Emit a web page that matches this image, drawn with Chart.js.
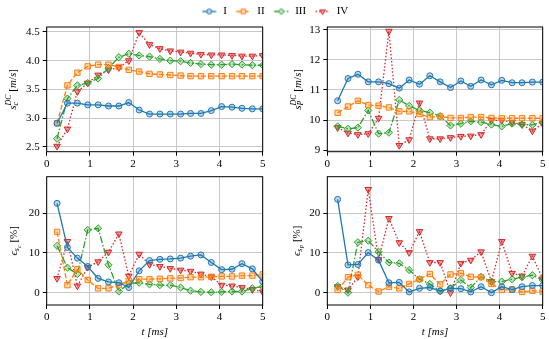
<!DOCTYPE html>
<html>
<head>
<meta charset="utf-8">
<script src="https://cdn.jsdelivr.net/npm/chart.js@4.4.1/dist/chart.umd.min.js"></script>
<style>
  body { margin: 0; background: #fff; }
  #wrap { position: relative; width: 549px; height: 339px; overflow: hidden; }
  #wrap canvas { position: absolute; }
</style>
</head>
<body>
<div id="wrap">
  <canvas id="legend" width="549" height="40" style="left:0;top:-2px"></canvas>
  <canvas id="sc" width="270" height="148" style="left:0;top:22px"></canvas>
  <canvas id="sp" width="279" height="148" style="left:270px;top:22px"></canvas>
  <canvas id="errSc" width="270" height="169" style="left:0;top:170px"></canvas>
  <canvas id="errSp" width="279" height="169" style="left:270px;top:170px"></canvas>
</div>
<script>
// time stamps [ms]
const tMs = [0.24, 0.48, 0.71, 0.95, 1.19, 1.43, 1.67, 1.90, 2.14, 2.38, 2.62,
             2.86, 3.10, 3.33, 3.57, 3.81, 4.05, 4.29, 4.52, 4.76, 5.00]

// s_c^DC [m/s]
const scI   = [2.91, 3.26, 3.26, 3.23, 3.23, 3.21, 3.21, 3.27, 3.14, 3.07, 3.07, 3.07, 3.07, 3.08, 3.08, 3.13, 3.20, 3.19, 3.17, 3.16, 3.16]
const scII  = [2.91, 3.57, 3.79, 3.90, 3.93, 3.93, 3.89, 3.84, 3.81, 3.77, 3.76, 3.75, 3.74, 3.73, 3.73, 3.73, 3.73, 3.73, 3.73, 3.73, 3.73]
const scIII = [2.64, 3.34, 3.57, 3.61, 3.69, 3.87, 4.06, 4.12, 4.09, 4.07, 4.03, 4.00, 3.99, 3.96, 3.94, 3.93, 3.93, 3.94, 3.93, 3.92, 3.92]
const scIV  = [2.51, 2.81, 3.46, 3.61, 3.75, 3.84, 3.88, 4.00, 4.49, 4.28, 4.21, 4.17, 4.15, 4.13, 4.11, 4.10, 4.10, 4.09, 4.08, 4.08, 4.09]

// s_P^DC [m/s]
const spI   = [10.64, 11.38, 11.52, 11.27, 11.27, 11.21, 11.06, 11.33, 11.19, 11.47, 11.27, 11.08, 11.30, 11.12, 11.33, 11.17, 11.32, 11.24, 11.24, 11.26, 11.26]
const spII  = [10.24, 10.45, 10.64, 10.50, 10.48, 10.42, 10.29, 10.29, 10.20, 10.10, 10.12, 10.07, 10.07, 10.10, 10.10, 10.07, 10.06, 10.06, 10.06, 10.06, 10.06]
const spIII = [9.79, 9.71, 9.75, 10.32, 9.55, 9.58, 10.67, 10.47, 10.32, 10.25, 10.13, 9.82, 9.88, 9.96, 9.93, 9.85, 9.79, 9.88, 9.85, 9.84, 9.93]
const spIV  = [9.75, 9.57, 9.52, 9.55, 10.06, 12.95, 9.16, 9.35, 10.57, 9.38, 9.38, 9.42, 9.46, 9.47, 9.52, 9.99, 9.99, 9.93, 9.85, 9.64, 9.88]

// error of s_c [%]
const errScI   = [22.5, 11.4, 8.7, 6.6, 3.6, 2.7, 2.5, 1.3, 5.5, 8.1, 8.4, 8.5, 8.7, 9.2, 9.5, 7.6, 5.8, 5.9, 7.3, 6.0, 2.8]
const errScII  = [15.3, 1.9, 5.9, 3.2, 1.1, 1.1, 1.9, 3.0, 3.4, 3.4, 3.5, 3.6, 3.7, 3.9, 3.9, 4.0, 4.1, 4.1, 4.3, 4.3, 4.6]
const errScIII = [11.8, 6.3, 4.7, 15.8, 16.2, 7.0, 0.3, 2.3, 2.5, 2.1, 1.9, 1.9, 1.3, 0.5, 0.2, 0.1, 0.2, 0.3, 0.3, 1.1, 1.5]
const errScIV  = [3.6, 12.9, 1.7, 6.4, 7.8, 10.2, 14.8, 4.2, 9.7, 7.1, 6.6, 6.1, 5.7, 5.4, 4.7, 4.0, 1.9, 1.7, 1.3, 0.8, 0.2]

// error of s_P [%]
const errSpI   = [23.5, 7.0, 7.1, 10.1, 8.2, 2.5, 2.6, 0.2, 1.1, 1.3, 0.4, 1.1, 1.0, 0.2, 1.5, 0.0, 1.5, 0.8, 1.5, 1.8, 1.8]
const errSpII  = [0.7, 3.9, 4.5, 1.9, 0.3, 1.5, 1.1, 2.2, 3.4, 4.7, 2.1, 4.6, 4.9, 4.0, 3.9, 2.2, 0.7, 0.8, 0.2, 0.5, 0.3]
const errSpIII = [1.7, 0.0, 12.7, 13.1, 10.3, 7.6, 7.4, 5.7, 3.4, 2.2, 0.4, 1.1, 3.2, 1.3, 4.0, 2.8, 2.8, 3.4, 3.9, 4.4, 3.2]
const errSpIV  = [1.5, 0.7, 4.0, 26.0, 8.4, 18.7, 12.6, 10.1, 15.4, 7.6, 7.6, 0.0, 7.4, 8.2, 10.3, 2.8, 12.9, 4.9, 4.2, 9.2, 3.5]

const xTicks = [0, 1, 2, 3, 4, 5]
const scTicks = [2.5, 3.0, 3.5, 4.0, 4.5]
const spTicks = [9, 10, 11, 12, 13]
const errTicks = [0, 10, 20]

const FONT = '"Liberation Serif", "Times New Roman", serif'
Chart.defaults.font.family = FONT
Chart.defaults.font.size = 11
Chart.defaults.color = '#000'
Chart.defaults.animation = false

const series = [
  { label: 'I',   color: '#1f77b4', fill: 'rgba(31,119,180,0.3)', dash: [],             style: 'circle',   radius: 3 },
  { label: 'II',  color: '#ff7f0e', fill: 'rgba(255,127,14,0.3)', dash: [5, 2],         style: 'rect',     radius: 3.8 },
  { label: 'III', color: '#2ca02c', fill: 'rgba(44,160,44,0.3)',  dash: [7, 2, 1.5, 2], style: 'rectRot',  radius: 3.6 },
  { label: 'IV',  color: '#d62728', fill: 'rgba(214,39,40,0.45)', dash: [1.5, 2],       style: 'triangle', radius: 3.8, rotation: 180 }
]

function makeDatasets(lists) {
  return series.map((s, i) => ({
    label: s.label,
    data: tMs.map((t, j) => ({ x: t, y: lists[i][j] })),
    borderColor: s.color,
    backgroundColor: s.fill,
    borderDash: s.dash,
    borderWidth: 1.3,
    pointStyle: s.style,
    pointRadius: s.radius,
    pointRotation: s.rotation || 0,
    pointBorderWidth: 1,
    pointBorderColor: s.color,
    pointBackgroundColor: s.fill,
    tension: 0
  }))
}

// little line + marker image for the legend
function legendIcon(s) {
  const c = document.createElement('canvas')
  c.width = 17; c.height = 10
  const ctx = c.getContext('2d')
  ctx.strokeStyle = s.color
  ctx.lineWidth = 1.3
  ctx.setLineDash(s.dash)
  ctx.beginPath(); ctx.moveTo(1.5, 5); ctx.lineTo(15.5, 5); ctx.stroke()
  ctx.setLineDash([])
  ctx.fillStyle = '#fff'
  Chart.helpers.drawPoint(ctx, { pointStyle: s.style, radius: s.radius * 0.85, rotation: s.rotation || 0, borderWidth: 0 }, 8.5, 5)
  ctx.fillStyle = s.fill
  ctx.lineWidth = 1
  Chart.helpers.drawPoint(ctx, { pointStyle: s.style, radius: s.radius * 0.85, rotation: s.rotation || 0, borderWidth: 1 }, 8.5, 5)
  return c
}

// full box around the axes like matplotlib spines
const framePlugin = {
  id: 'frame',
  afterDatasetsDraw(chart) {
    const a = chart.chartArea, ctx = chart.ctx
    ctx.save()
    ctx.strokeStyle = '#000'
    ctx.lineWidth = 1
    ctx.strokeRect(a.left, a.top, a.right - a.left, a.bottom - a.top)
    ctx.restore()
  }
}

// rotated y label with sub/superscripts
const mathLabel = {
  id: 'mathLabel',
  afterDraw(chart, args, opts) {
    if (!opts.parts) return
    const ctx = chart.ctx, a = chart.chartArea, base = 11
    const fontOf = p => (p.it ? 'italic ' : '') + ((p.s || 1) * base) + 'px ' + FONT
    let w = 0
    opts.parts.forEach(p => {
      ctx.font = fontOf(p)
      if (p.adv !== false) w += ctx.measureText(p.t).width
    })
    ctx.save()
    ctx.translate(opts.x, (a.top + a.bottom) / 2)
    ctx.rotate(-Math.PI / 2)
    ctx.fillStyle = '#000'
    ctx.textBaseline = 'alphabetic'
    let x = -w / 2
    opts.parts.forEach(p => {
      ctx.font = fontOf(p)
      ctx.fillText(p.t, x, 3.5 + (p.dy || 0))
      if (p.adv !== false) x += ctx.measureText(p.t).width
    })
    ctx.restore()
  }
}

const unitsMs = [{ t: ' [' }, { t: 'm', it: 1 }, { t: '/' }, { t: 's', it: 1 }, { t: ']' }]
const unitsPct = [{ t: ' [%]' }]

function makeScales(yMin, yMax, yTicks, decimals, yWidth, xHeight, xTitle) {
  const grid = { color: '#c8c8c8', lineWidth: 1, tickColor: '#000', tickLength: 4 }
  return {
    x: {
      type: 'linear', min: 0, max: 5,
      afterBuildTicks: s => { s.ticks = xTicks.map(v => ({ value: v })) },
      ticks: { padding: 2, maxRotation: 0, callback: v => String(v) },
      grid: grid,
      border: { display: false },
      title: { display: xTitle, text: 't [ms]', font: { style: 'italic', size: 11 }, padding: { top: 0, bottom: 0 } },
      afterFit: s => { s.height = xHeight; s.paddingLeft = 0; s.paddingRight = 0 }
    },
    y: {
      type: 'linear', min: yMin, max: yMax,
      afterBuildTicks: s => { s.ticks = yTicks.map(v => ({ value: v })) },
      ticks: { padding: 3, callback: v => v.toFixed(decimals) },
      grid: grid,
      border: { display: false },
      afterFit: s => { s.width = yWidth; s.paddingTop = 0; s.paddingBottom = 0 }
    }
  }
}

function panel(id, lists, scales, pad, labelX, parts) {
  return new Chart(document.getElementById(id), {
    type: 'line',
    data: { datasets: makeDatasets(lists) },
    options: {
      responsive: false,
      layout: { padding: pad },
      scales: scales,
      plugins: {
        legend: { display: false },
        tooltip: { enabled: false },
        mathLabel: { x: labelX, parts: parts }
      }
    },
    plugins: [framePlugin, mathLabel]
  })
}

panel('sc', [scI, scII, scIII, scIV],
  makeScales(2.414, 4.586, scTicks, 1, 46.7, 18.3, false),
  { left: 0, right: 7.3, top: 3, bottom: 0 }, 12,
  [{ t: 's', it: 1 }, { t: 'c', it: 1, s: 0.72, dy: 2.5, adv: false }, { t: 'DC', it: 1, s: 0.72, dy: -4.5 }].concat(unitsMs))

panel('sp', [spI, spII, spIII, spIV],
  makeScales(8.95, 13.09, spTicks, 0, 57.3, 18.3, false),
  { left: 0, right: 6.3, top: 3, bottom: 0 }, 27,
  [{ t: 's', it: 1 }, { t: 'P', it: 1, s: 0.72, dy: 2.5, adv: false }, { t: 'DC', it: 1, s: 0.72, dy: -4.5 }].concat(unitsMs))

panel('errSc', [errScI, errScII, errScIII, errScIV],
  makeScales(-3.1, 29.2, errTicks, 0, 46.7, 34, true),
  { left: 0, right: 7.3, top: 6.7, bottom: 0 }, 13,
  [{ t: 'ϵ', it: 1 }, { t: 's', it: 1, s: 0.72, dy: 2.5 }, { t: 'c', it: 1, s: 0.55, dy: 4.5 }].concat(unitsPct))

panel('errSp', [errSpI, errSpII, errSpIII, errSpIV],
  makeScales(-3.1, 29.2, errTicks, 0, 57.3, 34, true),
  { left: 0, right: 6.3, top: 6.7, bottom: 0 }, 26,
  [{ t: 'ϵ', it: 1 }, { t: 's', it: 1, s: 0.72, dy: 2.5 }, { t: 'P', it: 1, s: 0.55, dy: 4.5 }].concat(unitsPct))

new Chart(document.getElementById('legend'), {
  type: 'line',
  data: { datasets: series.map(s => ({ label: s.label, data: [], borderColor: s.color })) },
  options: {
    responsive: false,
    layout: { padding: 0 },
    scales: { x: { display: false }, y: { display: false } },
    plugins: {
      tooltip: { enabled: false },
      legend: {
        position: 'top',
        labels: {
          usePointStyle: true,
          pointStyleWidth: 17,
          boxHeight: 10,
          padding: 8,
          color: '#000',
          generateLabels: () => series.map((s, i) => ({
            text: s.label, pointStyle: legendIcon(s), datasetIndex: i,
            fontColor: '#000', lineWidth: 0, strokeStyle: 'rgba(0,0,0,0)', fillStyle: 'rgba(0,0,0,0)'
          }))
        }
      }
    }
  }
})
</script>
</body>
</html>
